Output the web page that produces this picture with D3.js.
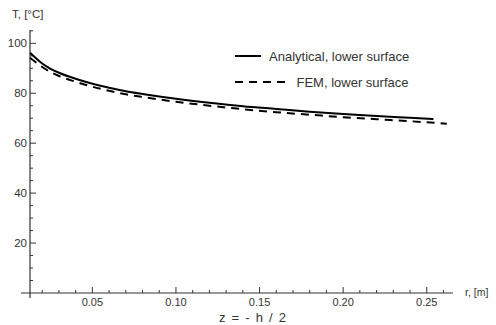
<!DOCTYPE html>
<html><head><meta charset="utf-8">
<script src="https://cdn.jsdelivr.net/npm/d3@7"></script>
<style>
html,body{margin:0;padding:0;background:#fff;}
svg{display:block;}
text{font-family:"Liberation Sans",Arial,sans-serif;fill:#333;}
</style></head>
<body>
<svg id="chart" width="496" height="325"></svg>
<script>
// Data
const rAnalytical = [0.0127,0.015,0.02,0.025,0.03,0.04,0.05,0.06,0.07,0.08,0.09,0.10,0.12,0.14,0.16,0.18,0.20,0.22,0.24,0.254];
const tAnalytical = [96.2,94.8,91.9,89.8,88.2,85.8,83.8,82.2,80.8,79.7,78.7,77.8,76.2,74.8,73.7,72.6,71.7,70.9,70.2,69.7];
const rFEM = [0.0127,0.015,0.02,0.025,0.03,0.04,0.05,0.06,0.07,0.08,0.09,0.10,0.12,0.14,0.16,0.18,0.20,0.22,0.24,0.262];
const tFEM = [94.2,93.0,90.5,88.5,86.9,84.6,82.6,81.0,79.6,78.5,77.5,76.6,75.0,73.6,72.4,71.4,70.4,69.6,68.8,67.8];
const xTicks = [0.05,0.10,0.15,0.20,0.25];
const yTicks = [20,40,60,80,100];
const seriesNames = ["Analytical, lower surface","FEM, lower surface"];

const svg = d3.select("#chart");
const x = d3.scaleLinear().domain([0.0127,0.2657]).range([30,453]);
const y = d3.scaleLinear().domain([0,100]).range([293,43.3]);
const axisColor = "#333";

// x axis
const gx = svg.append("g");
gx.append("line").attr("x1",21).attr("x2",453).attr("y1",y(0)).attr("y2",y(0)).attr("stroke",axisColor).attr("stroke-width",1.2);
const xMinor = d3.range(2,27).map(d=>d/100).filter(v=>!xTicks.some(t=>Math.abs(t-v)<1e-6));
xMinor.forEach(v=>gx.append("line").attr("x1",x(v)).attr("x2",x(v)).attr("y1",y(0)).attr("y2",y(0)-3).attr("stroke",axisColor));
xTicks.forEach(v=>{
  gx.append("line").attr("x1",x(v)).attr("x2",x(v)).attr("y1",y(0)).attr("y2",y(0)-6).attr("stroke",axisColor);
  gx.append("text").attr("x",x(v)).attr("y",306).attr("text-anchor","middle").attr("font-size",11).text(d3.format(".2f")(v));
});
svg.append("text").attr("x",465).attr("y",296).attr("font-size",10.5).text("r, [m]");

// y axis
const gy = svg.append("g");
gy.append("line").attr("x1",30).attr("x2",30).attr("y1",30).attr("y2",298).attr("stroke",axisColor).attr("stroke-width",1.2);
const yMinor = d3.range(5,106,5).filter(v=>!yTicks.includes(v));
yMinor.forEach(v=>gy.append("line").attr("x1",30).attr("x2",33).attr("y1",y(v)).attr("y2",y(v)).attr("stroke",axisColor));
yTicks.forEach(v=>{
  gy.append("line").attr("x1",30).attr("x2",36).attr("y1",y(v)).attr("y2",y(v)).attr("stroke",axisColor);
  gy.append("text").attr("x",27).attr("y",y(v)+4).attr("text-anchor","end").attr("font-size",11.5).text(v);
});
svg.append("text").attr("x",12).attr("y",18).attr("font-size",11.5).text("T, [°C]");

// curves
const line = d3.line().curve(d3.curveMonotoneX);
svg.append("path").attr("d",line(rAnalytical.map((r,i)=>[x(r),y(tAnalytical[i])])))
  .attr("fill","none").attr("stroke","#000").attr("stroke-width",2);
svg.append("path").attr("d",line(rFEM.map((r,i)=>[x(r),y(tFEM[i])])))
  .attr("fill","none").attr("stroke","#000").attr("stroke-width",2).attr("stroke-dasharray","8,6");

// legend
const lg = svg.append("g");
lg.append("line").attr("x1",235).attr("x2",261).attr("y1",56).attr("y2",56).attr("stroke","#000").attr("stroke-width",2);
lg.append("text").attr("x",269).attr("y",60.5).attr("font-size",13).attr("fill","#222").text(seriesNames[0]);
lg.append("line").attr("x1",235).attr("x2",289).attr("y1",82).attr("y2",82).attr("stroke","#000").attr("stroke-width",2).attr("stroke-dasharray","8,6");
lg.append("text").attr("x",296.5).attr("y",86.5).attr("font-size",13).attr("fill","#222").text(seriesNames[1]);

// caption
svg.append("text").attr("x",219).attr("y",322).attr("font-family","'Liberation Mono','DejaVu Sans Mono',monospace")
  .attr("font-size",13).attr("textLength",67).attr("lengthAdjust","spacing").text("z=-h/2");
</script>
</body></html>
